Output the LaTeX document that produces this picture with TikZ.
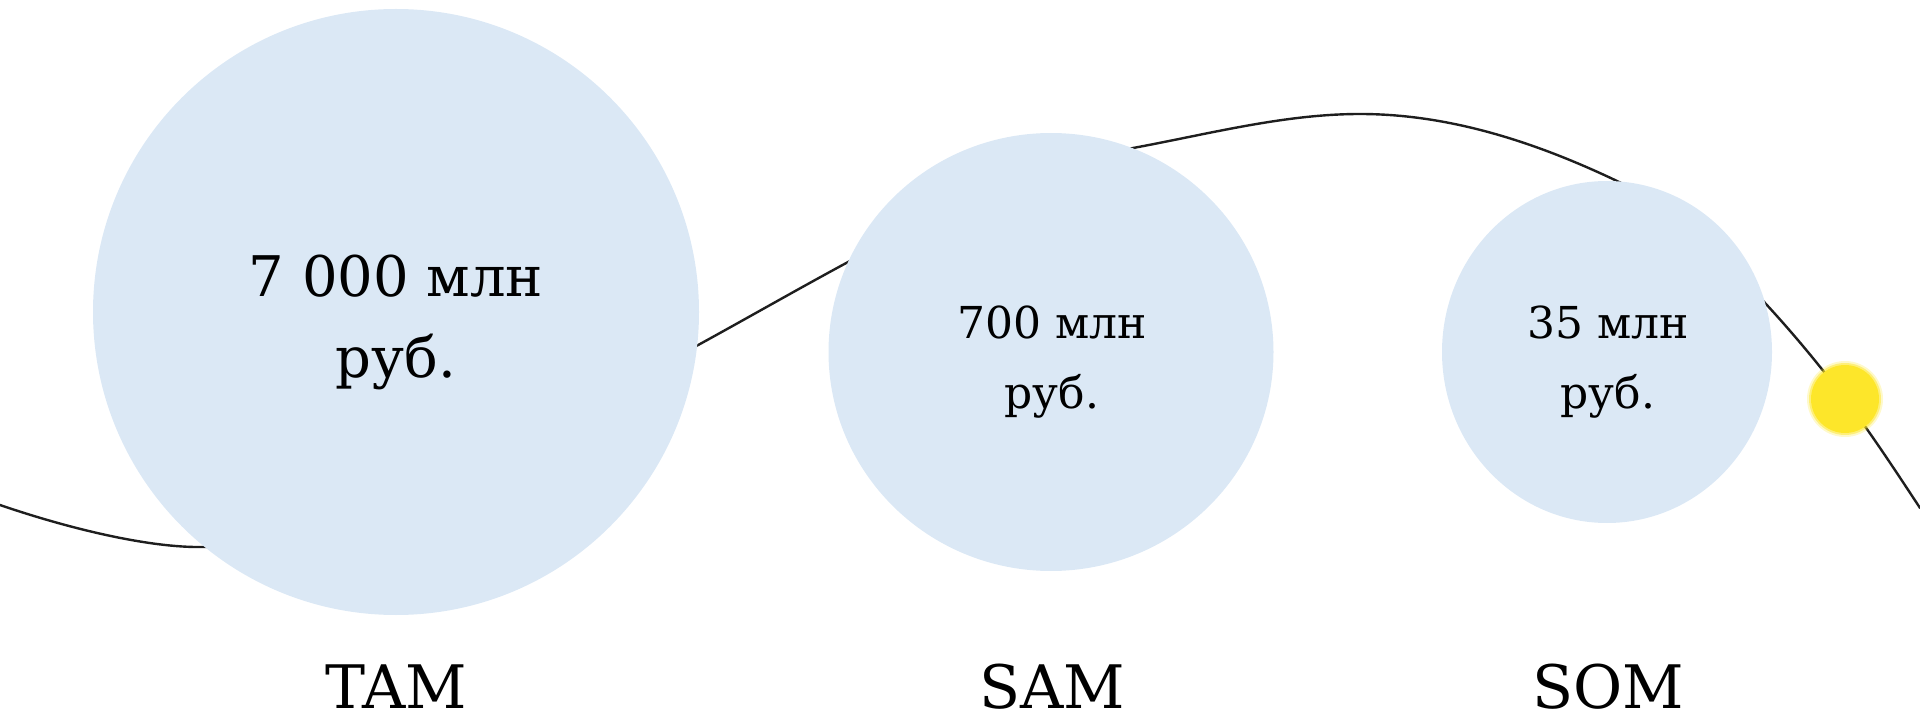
\documentclass[tikz,border=0pt]{standalone}
\usepackage{fontspec}
\setmainfont{DejaVu Serif}
\usetikzlibrary{shapes.geometric}
\definecolor{bubble}{HTML}{DBE8F5}
\definecolor{sun}{HTML}{FDE62A}
\definecolor{wave}{HTML}{1E1E1E}

\begin{document}
\begin{tikzpicture}[x=1pt, y=1pt,
  market/.style={ellipse, fill=bubble, inner sep=0pt},
  valbig/.style={align=center, inner sep=0pt, font=\fontsize{56}{81}\selectfont},
  valsmall/.style={align=center, inner sep=0pt, font=\fontsize{44}{70}\selectfont},
  lbl/.style={anchor=base, inner sep=0pt, font=\fontsize{60}{70}\selectfont},
  waveline/.style={draw=wave, line width=2.4pt, line cap=round},
  glow/.style={circle, fill=sun, inner sep=0pt, minimum size=#1}
]
  \useasboundingbox (0,0) rectangle (1920,-719);

  % the wave, drawn first so the bubbles hide it
  \coordinate (w0) at (0,-505);
  \coordinate (low) at (203,-547);
  \coordinate (top) at (1360,-114);
  \coordinate (sunc) at (1845,-399);
  \coordinate (w9) at (1920,-508);
  \draw[waveline] (w0)
    .. controls (70,-529) and (150,-548) .. (low)
    .. controls (330,-545) and (580,-410) .. (700,-344)
    .. controls (844,-265) and (989,-175) .. (1133,-148)
    .. controls (1209,-134) and (1284,-114) .. (top)
    .. controls (1446,-114) and (1531,-140) .. (1617,-181)
    .. controls (1693,-218) and (1785,-319) .. (sunc)
    .. controls (1870,-432) and (1895,-470) .. (w9);

  % bubbles
  \node[market, minimum width=606pt, minimum height=606pt] (tam) at (396,-312) {};
  \node[market, minimum width=445pt, minimum height=438pt] (sam) at (1051,-352) {};
  \node[market, minimum width=330pt, minimum height=342pt] (som) at (1607,-352) {};

  % values
  \node[valbig] (tamval) at (396,-322) {7 000 млн\\руб.};
  \node[valsmall] (samval) at (1052,-362) {700 млн\\руб.};
  \node[valsmall] (somval) at (1608,-362) {35 млн\\руб.};

  % names
  \node[lbl] (tamlbl) at (396,-708) {TAM};
  \node[lbl] (samlbl) at (1052,-708) {SAM};
  \node[lbl] (somlbl) at (1608,-708) {SOM};

  % yellow dot, soft edge
  \node[glow=76pt, opacity=0.25] at (sunc) {};
  \node[glow=72pt, opacity=0.5] at (sunc) {};
  \node[glow=68pt] (sun) at (sunc) {};
\end{tikzpicture}
\end{document}
